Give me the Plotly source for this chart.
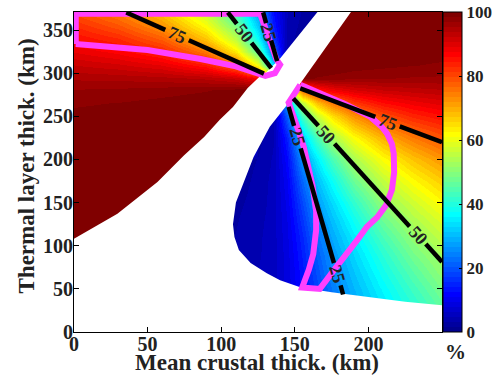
import plotly.graph_objects as go

# ---------------- data ----------------
grid_x = [0, 30, 60, 90, 110, 125, 135, 145, 155, 165, 175, 190, 210, 230, 250]
grid_y = [30, 50, 70, 90, 110, 130, 150, 175, 200, 225, 250, 265, 280, 295, 310, 325, 340, 355, 370]

row_030 = [100, 100, 100, 2, 3.9, 4.9, 5.6, 8.1, 12.3, 16.9, 22.0, 28.2, 34.7, 40.6, 46.2]
row_050 = [100, 100, 100, 2, 3.7, 4.8, 5.6, 8.3, 12.9, 18.0, 23.6, 29.6, 36.4, 42.8, 48.6]
row_070 = [100, 100, 100, 2, 3.6, 4.7, 5.6, 8.5, 13.4, 19.3, 25.2, 31.2, 38.5, 45.3, 51.0]
row_090 = [100, 100, 100, 2, 3.4, 4.5, 5.5, 8.7, 14.2, 20.8, 26.6, 33.1, 40.9, 48.1, 53.3]
row_110 = [100, 100, 100, 2, 3.2, 4.4, 5.5, 9.0, 15.1, 22.6, 28.4, 35.3, 43.8, 51.0, 55.8]
row_130 = [100, 100, 100, 2, 3.0, 4.2, 5.4, 9.4, 16.6, 24.9, 30.5, 38.1, 47.2, 53.8, 58.6]
row_150 = [100, 100, 100, 2, 2.7, 3.9, 5.3, 9.9, 18.4, 27.0, 33.1, 41.4, 51.0, 57.0, 62.0]
row_175 = [100, 100, 100, 100, 2.1, 3.7, 5.2, 10.8, 21.4, 30.4, 37.4, 47.1, 55.7, 61.9, 66.7]
row_200 = [100, 100, 100, 100, 2, 3.2, 4.9, 12.1, 25.9, 35.3, 43.8, 53.5, 61.7, 67.6, 72.2]
row_225 = [99.5, 99.9, 100, 100, 100, 2.5, 4.5, 14.4, 31.5, 43.5, 52.8, 61.4, 69.3, 74.8, 78.7]
row_250 = [98.9, 99.2, 99.6, 100, 100, 2, 3.7, 20.8, 42.8, 56.3, 64.6, 72.7, 79.4, 83.4, 85.7]
row_265 = [98.2, 98.5, 99.0, 99.6, 100, 100, 2.8, 28.8, 55.3, 67.6, 74.9, 81.5, 85.8, 88.2, 89.7]
row_280 = [97.0, 97.2, 97.7, 98.3, 99.1, 100, 100, 51.0, 76.4, 84.6, 88.0, 90.5, 92.2, 93.0, 93.6]
row_295 = [95.0, 94.8, 94.3, 93.3, 91.5, 86.6, 67.7, 100, 99.1, 98.3, 97.9, 97.3, 97.0, 96.7, 96.6]
row_310 = [92.2, 91.0, 89.0, 84.6, 76.4, 60.8, 33.1, 2.3, 100, 100, 99.9, 99.3, 98.9, 98.5, 98.2]
row_325 = [89.0, 87.0, 83.5, 75.4, 64.0, 46.6, 23.1, 3.5, 2, 100, 100, 100, 99.6, 99.3, 99.1]
row_340 = [85.9, 83.1, 77.7, 67.6, 55.3, 37.1, 17.4, 4.1, 2, 100, 100, 100, 100, 99.8, 99.5]
row_355 = [82.8, 78.7, 72.4, 61.4, 48.8, 31.5, 14.4, 4.5, 2.5, 2, 100, 100, 100, 100, 100]
row_370 = [79.4, 74.6, 67.6, 56.3, 42.8, 27.7, 12.8, 4.8, 3.0, 2, 100, 100, 100, 100, 100]

z_rows = [row_030, row_050, row_070, row_090, row_110, row_130, row_150, row_175,
          row_200, row_225, row_250, row_265, row_280, row_295, row_310, row_325,
          row_340, row_355, row_370]

# white (no-solution) area boundary
mask_x = [-10, -10, 0, 29.5, 56.7, 74.8, 88.4, 99, 108, 118, 126, 130, 135.9, 140, 165, 169.7,
          191.9, 187.8, 170, 153.7, 146, 133, 122, 115, 110, 108, 109, 112, 120, 131, 140,
          153.7, 175, 200, 225, 250, 260, 260]
mask_y = [-10, 108, 108, 137, 174, 205, 226, 246, 261, 283, 296, 300, 310, 317, 370, 380,
          380, 370, 328, 288, 266, 238, 203, 172, 150, 125, 110, 95, 80, 68, 60,
          52, 46, 40.6, 35, 31, 29.5, -10]

# magenta outlines
magA_x = [1.2, 1.2, 126.5, 137.5, 140, 136.5, 130, 110, 86, 50, 1.2]
magA_y = [334, 369, 369, 316, 310, 300, 297, 308, 316.5, 327, 334]
magB_x = [153.7, 168, 183.2, 201.4, 209, 212.7, 216, 217.2, 217.5, 216, 212, 206, 199, 193,
          187.5, 178, 167, 155, 159.5, 162.5, 164.5, 164.5, 162, 159, 156, 152, 148, 145.8, 153.7]
magB_y = [286.5, 276, 265, 249.4, 238, 230, 218, 207, 185, 165, 147, 133, 122, 108,
          95, 75, 50, 51.5, 72, 90, 118, 140, 170, 195, 215, 236, 254, 266, 286.5]

# black contour lines (gaps where labels sit)
c_x = [35.5, 62, None, 78, 129, None,
       104.5, 110.6, None, 120.6, 134, None,
       128.5, 130.5, None, 133.9, 138, None,
       153.7, 204.7, None, 221.3, 250, None,
       149, 166, None, 177, 228, None, 239, 250, None,
       145.8, 149.5, None, 154.0, 176.6, None, 181.1, 182.8]
c_y = [370.4, 350.3, None, 338.2, 299.5, None,
       370.5, 357.2, None, 335.3, 306, None,
       370.5, 358, None, 338, 314, None,
       282.4, 249.3, None, 238.5, 220, None,
       270.8, 239.0, None, 218.3, 122.3, None, 101.9, 81.2, None,
       261, 239, None, 213, 80, None, 54, 43.5]

lab_text = ["75", "50", "25", "75", "50", "50", "25", "25"]
lab_x = [70, 115.6, 132.2, 213, 171.5, 233.5, 151.8, 178.8]
lab_y = [344.2, 346.3, 348, 243.9, 228.6, 112.0, 226, 67]
lab_ang = [24, 52, 74, 21, 48, 48, 74, 74]

cbar_ticks = [0, 20, 40, 60, 80, 100]
x_ticks = [0, 50, 100, 150, 200]
y_ticks = [0, 50, 100, 150, 200, 250, 300, 350]

# ---------------- MATLAB jet(64) discrete colorscale ----------------
n = 16
u = [i / n for i in range(1, n + 1)] + [1.0] * (n - 1) + [i / n for i in range(n, 0, -1)]
def jet_rgb(k):  # k = 1..64
    g = u[k - 9] if 9 <= k <= 55 else 0.0
    r = u[k - 25] if 25 <= k <= 64 else 0.0
    b = u[k + 7] if 1 <= k <= 39 else 0.0
    return "rgb(%d,%d,%d)" % (round(r * 255), round(g * 255), round(b * 255))
jet_scale = []
for k in range(64):
    c = jet_rgb(k + 1)
    jet_scale.append([k / 64, c])
    jet_scale.append([(k + 1) / 64, c])

FONT = "Liberation Serif"
INK = "#222"

fig = go.Figure()
fig.add_trace(go.Heatmap(
    x=grid_x, y=grid_y, z=z_rows, zmin=0, zmax=100, zsmooth="best",
    colorscale=jet_scale, hoverinfo="skip",
    colorbar=dict(
        x=1.004, xanchor="left", xpad=0, y=0.5, yanchor="middle", len=1, ypad=0,
        thickness=19, outlinecolor="black", outlinewidth=1,
        tickvals=cbar_ticks, ticks="inside", ticklen=3, tickcolor="black",
        ticklabeloverflow="allow",
        tickfont=dict(family=FONT, size=17, color=INK, weight="bold"),
    ),
))
fig.add_trace(go.Scatter(x=mask_x, y=mask_y, mode="lines", fill="toself",
                         fillcolor="white", line=dict(width=0, color="white"),
                         hoverinfo="skip", showlegend=False))
fig.add_trace(go.Scatter(x=magA_x, y=magA_y, mode="lines",
                         line=dict(color="#ff40ff", width=6), showlegend=False, hoverinfo="skip"))
fig.add_trace(go.Scatter(x=magB_x, y=magB_y, mode="lines",
                         line=dict(color="#ff40ff", width=6), showlegend=False, hoverinfo="skip"))
fig.add_trace(go.Scatter(x=c_x, y=c_y, mode="lines", connectgaps=False,
                         line=dict(color="black", width=4.5), showlegend=False, hoverinfo="skip"))

for t, xx, yy, a in zip(lab_text, lab_x, lab_y, lab_ang):
    fig.add_annotation(x=xx, y=yy, xref="x", yref="y", text=t, showarrow=False,
                       textangle=a, font=dict(family=FONT, size=18, color=INK, weight="bold"))

# colorbar unit and axis titles
fig.add_annotation(x=1.036, y=-0.062, xref="paper", yref="paper", text="%", showarrow=False,
                   xanchor="center", yanchor="middle",
                   font=dict(family=FONT, size=21, color=INK, weight="bold"))
fig.add_annotation(x=0.497, y=-0.094, xref="paper", yref="paper",
                   text="Mean crustal thick. (km)", showarrow=False,
                   xanchor="center", yanchor="middle",
                   font=dict(family=FONT, size=23, color=INK, weight="bold"))
fig.add_annotation(x=-0.128, y=0.52, xref="paper", yref="paper",
                   text="Thermal layer thick. (km)", showarrow=False, textangle=-90,
                   xanchor="center", yanchor="middle",
                   font=dict(family=FONT, size=23, color=INK, weight="bold"))

axis_common = dict(showline=True, linecolor="black", linewidth=1, mirror="ticks",
                   ticks="inside", ticklen=5, tickcolor="black", showgrid=False, zeroline=False,
                   automargin=False, ticklabeloverflow="allow",
                   tickfont=dict(family=FONT, size=20, color=INK, weight="bold"))
fig.update_layout(
    width=495, height=377, autosize=False,
    margin=dict(l=74, r=53, t=12, b=45, autoexpand=False),
    paper_bgcolor="white", plot_bgcolor="white",
    font=dict(family=FONT, color=INK),
    xaxis=dict(range=[0, 250], tickvals=x_ticks, ticklabelstandoff=-6, **axis_common),
    yaxis=dict(range=[0, 371], tickvals=y_ticks, ticklabelstandoff=-4, **axis_common),
)

# remove the default 8 px page margin so the figure sits at the window's corner
fig.write_html("out.html", config={"displayModeBar": False},
               post_script="document.body.style.margin='0px';")
